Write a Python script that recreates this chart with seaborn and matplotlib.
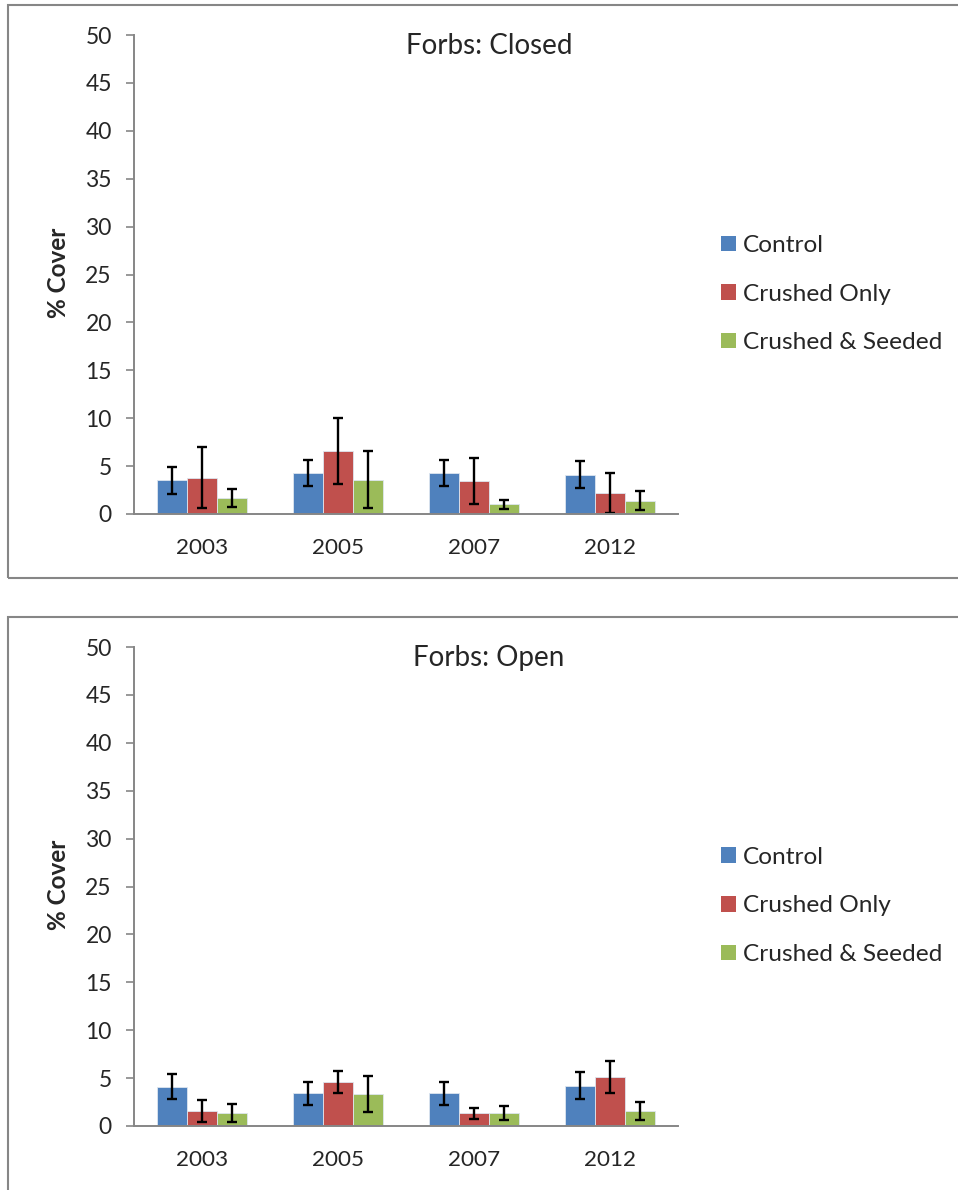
import numpy as np
import pandas as pd
import seaborn as sns
import matplotlib.pyplot as plt
from matplotlib.patches import Rectangle, Patch

# dados
anos = ['2003', '2005', '2007', '2012']
tratamentos = ['Control', 'Crushed Only', 'Crushed & Seeded']
cores = ['#4F81BD', '#C0504D', '#9BBB59']

# Forbs: Closed
fechado_control = [3.5, 4.25, 4.25, 4.1]
fechado_crushed = [3.8, 6.6, 3.4, 2.2]
fechado_seeded = [1.65, 3.6, 1.0, 1.4]
fechado_err_control = [1.45, 1.35, 1.35, 1.4]
fechado_err_crushed = [3.2, 3.45, 2.4, 2.1]
fechado_err_seeded = [0.95, 3.0, 0.45, 0.95]

# Forbs: Open
aberto_control = [4.1, 3.4, 3.4, 4.2]
aberto_crushed = [1.55, 4.55, 1.35, 5.15]
aberto_seeded = [1.35, 3.35, 1.35, 1.55]
aberto_err_control = [1.3, 1.2, 1.2, 1.4]
aberto_err_crushed = [1.15, 1.15, 0.57, 1.67]
aberto_err_seeded = [0.95, 1.9, 0.73, 0.95]

sns.set_style('white')
plt.rcParams['font.family'] = ['Lato', 'DejaVu Sans']

W, H = 958, 1190
fig = plt.figure(figsize=(W / 100, H / 100), dpi=100)
cinza = '#868686'


def painel(topo_px, base_px, titulo, valores, erros):
    ax = fig.add_axes([134 / W, 1 - base_px / H, 544 / W, (base_px - topo_px) / H])
    df = pd.DataFrame({
        'ano': np.repeat(anos, 3),
        'trat': tratamentos * 4,
        'valor': np.array(valores).T.ravel(),
    })
    sns.barplot(data=df, x='ano', y='valor', hue='trat', order=anos,
                hue_order=tratamentos, palette=cores, width=0.66,
                saturation=1, errorbar=None, legend=False, ax=ax,
                edgecolor='#dde6f0', linewidth=0.6)
    for cont, err in zip(ax.containers, erros):
        xs = [b.get_x() + b.get_width() / 2 for b in cont]
        hs = [b.get_height() for b in cont]
        ax.errorbar(xs, hs, yerr=err, fmt='none', ecolor='black',
                    elinewidth=1.7, capsize=3.8, capthick=1.7)
    ax.set_ylim(0, 50)
    ax.set_xlim(-0.5, 3.5)
    ax.set_yticks(range(0, 51, 5))
    ax.set_xticks(range(4))
    ax.set_xticklabels(anos)
    ax.set_xticks(np.arange(-0.5, 4, 1), minor=True)
    ax.tick_params(axis='x', which='major', length=0, pad=17, labelsize=16.2)
    ax.tick_params(axis='x', which='minor', length=7, width=1.2, color=cinza,
                   direction='out')
    ax.tick_params(axis='y', length=6, width=1.2, color=cinza, pad=10,
                   labelsize=16.5, direction='out', left=True)
    ax.set_xlabel('')
    ax.set_ylabel('')
    for lado in ['top', 'right']:
        ax.spines[lado].set_visible(False)
    for lado in ['left', 'bottom']:
        ax.spines[lado].set_color(cinza)
        ax.spines[lado].set_linewidth(1.4)
    fig.text(489 / W, 1 - (topo_px + 11) / H, titulo, ha='center', va='center',
             fontsize=20)
    fig.text(58 / W, 1 - (topo_px + 238) / H, '% Cover', rotation=90,
             ha='center', va='center', fontsize=17.5, fontweight='bold')
    alcas = [Patch(facecolor=c, edgecolor='none') for c in cores]
    fig.legend(alcas, tratamentos, loc='center left',
               bbox_to_anchor=(721 / W, 1 - (topo_px + 259) / H), frameon=False,
               fontsize=17.6, handlelength=0.6, handleheight=0.6,
               handletextpad=0.3, labelspacing=1.13, borderpad=0,
               borderaxespad=0)
    return ax


painel(35, 514, 'Forbs: Closed',
       [fechado_control, fechado_crushed, fechado_seeded],
       [fechado_err_control, fechado_err_crushed, fechado_err_seeded])
painel(647, 1126, 'Forbs: Open',
       [aberto_control, aberto_crushed, aberto_seeded],
       [aberto_err_control, aberto_err_crushed, aberto_err_seeded])

# molduras das caixas
for y0, y1 in [(5, 578), (617, 1195)]:
    fig.patches.append(Rectangle((8 / W, 1 - y1 / H), (W + 10) / W, (y1 - y0) / H,
                                 transform=fig.transFigure, fill=False,
                                 edgecolor=cinza, linewidth=1.5))

fig.savefig('out.png', dpi=100)
